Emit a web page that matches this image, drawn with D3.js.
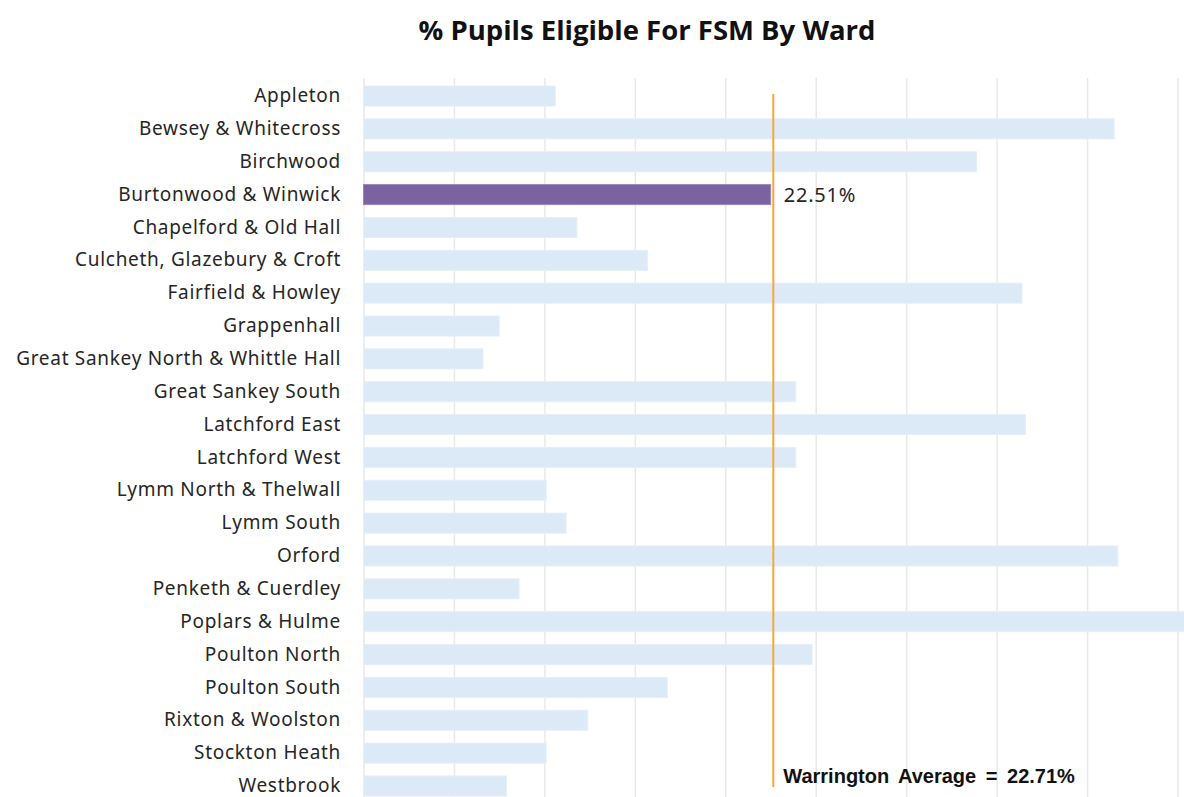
<!DOCTYPE html>
<html>
<head>
<meta charset="utf-8">
<script src="https://cdn.jsdelivr.net/npm/d3@7"></script>
<style>
  body { margin: 0; background: #fff; }
  svg { display: block; }
</style>
</head>
<body>
<svg id="canvas"></svg>
<script>
const WIDTH = 1184;
const HEIGHT = 797;

// ward names, top to bottom
const wards = [
  "Appleton",
  "Bewsey & Whitecross",
  "Birchwood",
  "Burtonwood & Winwick",
  "Chapelford & Old Hall",
  "Culcheth, Glazebury & Croft",
  "Fairfield & Howley",
  "Grappenhall",
  "Great Sankey North & Whittle Hall",
  "Great Sankey South",
  "Latchford East",
  "Latchford West",
  "Lymm North & Thelwall",
  "Lymm South",
  "Orford",
  "Penketh & Cuerdley",
  "Poplars & Hulme",
  "Poulton North",
  "Poulton South",
  "Rixton & Woolston",
  "Stockton Heath",
  "Westbrook",
];

// % pupils eligible for FSM
const fsmPct = [
  10.6, 41.5, 33.9, 22.51, 11.8, 15.7, 36.4, 7.5, 6.6, 23.9, 36.6,
  23.9, 10.1, 11.2, 41.7, 8.6, 46.0, 24.8, 16.8, 12.4, 10.1, 7.9,
];

const xTicks = [0, 5, 10, 15, 20, 25, 30, 35, 40, 45];
const highlightWard = "Burtonwood & Winwick";
const averagePct = 22.71;

const canvas = d3.select("#canvas").attr("width", WIDTH).attr("height", HEIGHT);

const values = wards.map((w, i) => ({ ward: w, pct: fsmPct[i] }));

const xScale = d3.scaleLinear().domain([0, 45]).range([363.5, 1177.5]);
const yScale = d3
  .scaleBand()
  .domain(wards)
  .range([79.6, 802.4])
  .paddingInner(0.39)
  .paddingOuter(0.195);

// title
canvas
  .append("text")
  .attr("x", 647)
  .attr("y", 40)
  .attr("text-anchor", "middle")
  .attr("font-family", "'Open Sans', sans-serif")
  .attr("font-weight", "bold")
  .attr("font-size", 27.5)
  .attr("fill", "#111")
  .text("% Pupils Eligible For FSM By Ward");

// vertical gridlines
const grid = d3
  .axisBottom(xScale)
  .tickValues(xTicks)
  .tickSize(-(HEIGHT - 78))
  .tickFormat("");

canvas
  .append("g")
  .attr("transform", "translate(0," + HEIGHT + ")")
  .call(grid)
  .call((g) => g.select(".domain").remove())
  .call((g) => g.selectAll("line").attr("stroke", "#e9e9e9").attr("stroke-width", 1.5));

// bars
canvas
  .selectAll("rect.bar")
  .data(values)
  .enter()
  .append("rect")
  .attr("class", "bar")
  .attr("x", xScale(0))
  .attr("y", (d) => yScale(d.ward))
  .attr("width", (d) => xScale(d.pct) - xScale(0))
  .attr("height", yScale.bandwidth())
  .attr("fill", (d) => (d.ward === highlightWard ? "#7a63a0" : "#dce9f6"))
  .attr("stroke", (d) => (d.ward === highlightWard ? "#9a88bb" : "#e6eff9"))
  .attr("stroke-width", 1);

// category labels
const yAxis = d3.axisLeft(yScale).tickSize(0).tickPadding(0);
canvas
  .append("g")
  .attr("transform", "translate(341,0)")
  .call(yAxis)
  .call((g) => g.select(".domain").remove())
  .call((g) =>
    g
      .selectAll("text")
      .attr("font-family", "'Noto Sans', sans-serif")
      .attr("font-size", 19)
      .attr("letter-spacing", 0.7)
      .attr("fill", "#262626")
  );

// value label for highlighted ward
const hl = values.find((d) => d.ward === highlightWard);
canvas
  .append("text")
  .attr("x", xScale(hl.pct) + 13)
  .attr("y", yScale(hl.ward) + yScale.bandwidth() / 2)
  .attr("dy", "0.35em")
  .attr("font-family", "'Noto Sans', sans-serif")
  .attr("font-size", 20)
  .attr("letter-spacing", 0.8)
  .attr("fill", "#262626")
  .text(hl.pct.toFixed(2) + "%");

// average line
canvas
  .append("line")
  .attr("x1", xScale(averagePct) - 1)
  .attr("x2", xScale(averagePct) - 1)
  .attr("y1", 94)
  .attr("y2", 787)
  .attr("stroke", "#f5a93b")
  .attr("stroke-width", 2);

canvas
  .append("text")
  .attr("x", xScale(averagePct) + 9)
  .attr("y", 783)
  .attr("font-family", "'Liberation Sans Narrow', 'Liberation Sans', sans-serif")
  .attr("font-weight", "bold")
  .attr("font-size", 20)
  .attr("fill", "#111")
  .attr("word-spacing", 4)
  .text("Warrington Average = " + averagePct.toFixed(2) + "%");
</script>
</body>
</html>
